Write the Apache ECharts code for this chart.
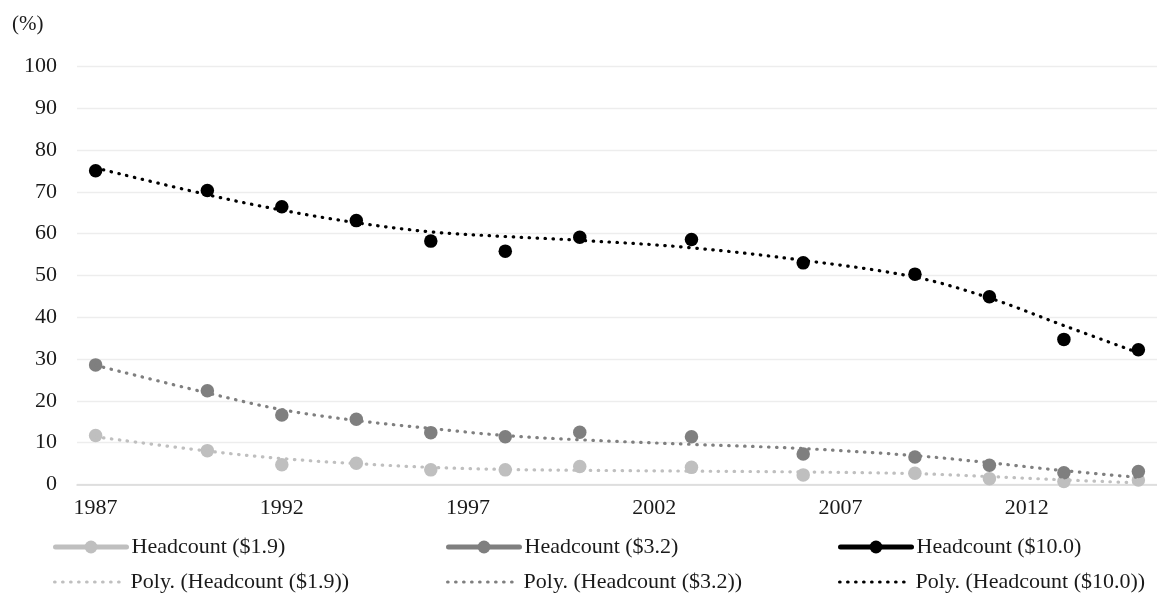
<!DOCTYPE html>
<html>
<head>
<meta charset="utf-8">
<script src="https://cdn.jsdelivr.net/npm/echarts@6/dist/echarts.min.js"></script>
<style>
html,body{margin:0;padding:0;background:#fff;}
#chart{width:1157px;height:597px;}
</style>
</head>
<body>
<div id="chart"></div>
<script>
// Category axis: every year shown on the axis
const years = ['1987','1988','1989','1990','1991','1992','1993','1994','1995','1996','1997','1998','1999','2000','2001','2002','2003','2004','2005','2006','2007','2008','2009','2010','2011','2012','2013','2014','2015'];
// Survey years with observations
const surveyYears = ['1987','1990','1992','1994','1996','1998','2000','2003','2006','2009','2011','2013','2015'];
// Headcount values (%)
const headcount19  = [11.7, 8.1, 4.7, 5.1, 3.5, 3.5, 4.3, 4.1, 2.3, 2.7, 1.4, 0.7, 1.1];
const headcount32  = [28.6, 22.4, 16.6, 15.6, 12.4, 11.4, 12.5, 11.4, 7.3, 6.6, 4.6, 2.8, 3.1];
const headcount100 = [75.0, 70.3, 66.4, 63.1, 58.2, 55.8, 59.1, 58.6, 53.0, 50.3, 44.9, 34.7, 32.2];
// Polynomial trend lines at the survey years
const trend19  = [11.4, 8.0, 6.2, 5.0, 4.1, 3.6, 3.4, 3.2, 3.0, 2.6, 1.9, 1.1, 0.4];
const trend32  = [28.5, 21.9, 17.9, 15.3, 13.4, 11.7, 10.7, 9.6, 8.6, 6.9, 5.2, 3.3, 1.7];
const trend100 = [75.7, 69.3, 65.6, 62.6, 60.4, 59.3, 58.4, 56.6, 53.6, 49.6, 44.6, 38.0, 31.5];
const yTicks = [0, 10, 20, 30, 40, 50, 60, 70, 80, 90, 100];

const names = ['Headcount ($1.9)', 'Headcount ($3.2)', 'Headcount ($10.0)',
               'Poly. (Headcount ($1.9))', 'Poly. (Headcount ($3.2))', 'Poly. (Headcount ($10.0))'];
const colors = ['#bfbfbf', '#7f7f7f', '#000000'];

function spread(vals) {
  const map = {};
  surveyYears.forEach((y, i) => { map[y] = vals[i]; });
  return years.map(y => (y in map ? map[y] : null));
}

const FONT = '"Liberation Serif", "Times New Roman", serif';
const TXT = '#1a1a1a';
const DOTS = [0.5, 7.5];

function markerSeries(name, vals, color) {
  return {
    name: name, type: 'line', data: spread(vals), connectNulls: false,
    symbol: 'circle', symbolSize: 13.5, showSymbol: true,
    itemStyle: { color: color },
    lineStyle: { color: color, width: 5 },
    z: 2, animation: false
  };
}
function trendSeries(name, vals, color) {
  return {
    name: name, type: 'line', data: spread(vals), connectNulls: true, smooth: 0.35,
    showSymbol: false, symbol: 'none',
    itemStyle: { color: color },
    lineStyle: { color: color, width: 3.2, type: DOTS, cap: 'round' },
    z: 3, animation: false
  };
}

const legendLeft = [53, 446, 838];
const legends = names.map((n, i) => {
  const isTrend = i >= 3;
  const lg = {
    data: [n],
    left: legendLeft[i % 3],
    top: isTrend ? 571 : 536,
    padding: 0,
    itemWidth: 71,
    itemHeight: isTrend ? 12 : 16,
    textStyle: { fontFamily: FONT, fontSize: 22, color: TXT },
    selectedMode: false
  };
  if (isTrend) {
    lg.lineStyle = { width: 3.2, type: DOTS, cap: 'round' };
    lg.itemStyle = { opacity: 0 };
  } else {
    lg.lineStyle = { width: 5, cap: 'round' };
  }
  return lg;
});

const chart = echarts.init(document.getElementById('chart'), null, { renderer: 'canvas' });
chart.setOption({
  backgroundColor: '#ffffff',
  animation: false,
  title: {
    text: '(%)', left: 12, top: 14, padding: 0,
    textStyle: { fontFamily: FONT, fontSize: 21, fontWeight: 'normal', color: TXT }
  },
  legend: legends,
  grid: { left: 77, right: -3, top: 66.3, bottom: 112.5, containLabel: false },
  xAxis: {
    type: 'category', data: years, boundaryGap: true,
    axisLine: { lineStyle: { color: '#d9d9d9', width: 1.5 } },
    axisTick: { show: false },
    axisLabel: { interval: 4, margin: 13, fontFamily: FONT, fontSize: 22, color: TXT },
    splitLine: { show: false }
  },
  yAxis: {
    type: 'value', min: yTicks[0], max: yTicks[yTicks.length - 1], interval: 10,
    axisLine: { show: false }, axisTick: { show: false },
    axisLabel: { margin: 20, fontFamily: FONT, fontSize: 22, color: TXT },
    splitLine: { lineStyle: { color: '#ededed', width: 1.3 } }
  },
  series: [
    markerSeries(names[0], headcount19, colors[0]),
    markerSeries(names[1], headcount32, colors[1]),
    markerSeries(names[2], headcount100, colors[2]),
    trendSeries(names[3], trend19, colors[0]),
    trendSeries(names[4], trend32, colors[1]),
    trendSeries(names[5], trend100, colors[2])
  ]
});
</script>
</body>
</html>
